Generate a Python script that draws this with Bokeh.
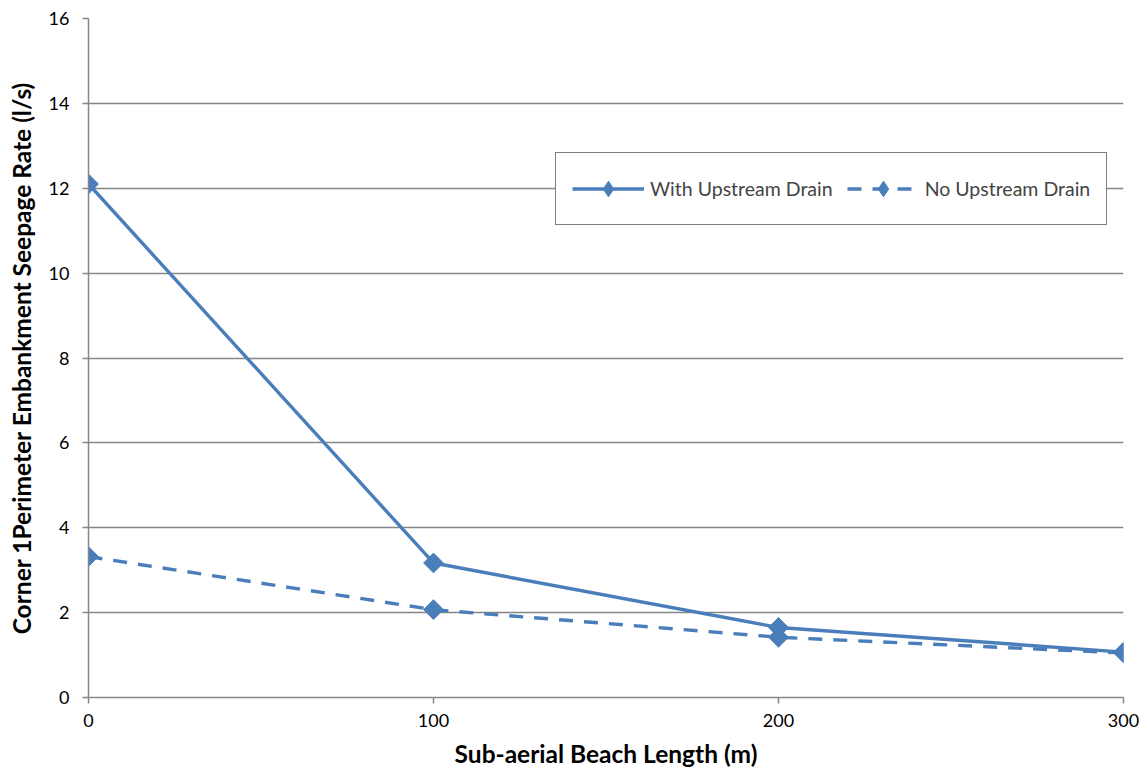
import numpy as np
from bokeh.plotting import figure
from bokeh.models import Legend, LegendItem, FixedTicker, Range1d
from bokeh.embed import file_html
from bokeh.resources import INLINE

beach_length = [0, 100, 200, 300]
with_drain = [12.1, 3.17, 1.65, 1.07]
no_drain = [3.32, 2.07, 1.42, 1.05]
x_ticks = [0, 100, 200, 300]
y_ticks = [0, 2, 4, 6, 8, 10, 12, 14, 16]

FONT = "Lato"
BLUE = "#4A7EBB"
GRAY = "#868686"

p = figure(width=1145, height=775, output_backend="svg", toolbar_location=None,
           x_range=Range1d(0, 300), y_range=Range1d(0, 16),
           min_border_left=88, min_border_right=22, min_border_top=18, min_border_bottom=78)
p.outline_line_color = None
p.background_fill_color = "white"

p.xgrid.grid_line_color = None
p.ygrid.grid_line_color = GRAY
p.ygrid.grid_line_width = 1.3

for ax in (p.xaxis[0], p.yaxis[0]):
    ax.axis_line_color = GRAY
    ax.axis_line_width = 1.5
    ax.major_tick_line_color = GRAY
    ax.major_tick_line_width = 1.5
    ax.major_tick_out = 6
    ax.major_tick_in = 0
    ax.minor_tick_line_color = None
    ax.major_label_text_font = FONT
    ax.major_label_text_font_size = "18px"
    ax.major_label_text_color = "black"
    ax.axis_label_text_font = FONT
    ax.axis_label_text_font_size = "24.5px"
    ax.axis_label_text_font_style = "bold"
    ax.axis_label_text_color = "black"

p.xaxis.ticker = FixedTicker(ticks=x_ticks)
p.yaxis.ticker = FixedTicker(ticks=y_ticks)
p.xaxis.major_label_standoff = 10
p.xaxis.axis_label_standoff = 9
p.yaxis.major_label_standoff = 13
p.yaxis.axis_label_standoff = 10
p.xaxis.axis_label = "Sub-aerial Beach Length (m)"
p.yaxis.axis_label = "Corner 1Perimeter Embankment Seepage Rate (l/s)"

l1 = p.line(beach_length, with_drain, line_color=BLUE, line_width=3.4)
m1 = p.scatter(beach_length, with_drain, marker="square", angle=np.pi / 4, size=14,
               fill_color=BLUE, line_color=BLUE)
l2 = p.line(beach_length, no_drain, line_color=BLUE, line_width=3.4, line_dash="14 11")
m2 = p.scatter(beach_length, no_drain, marker="square", angle=np.pi / 4, size=14,
               fill_color=BLUE, line_color=BLUE)

# legend-only marker renderers (no data drawn in plot)
lg1 = p.scatter([np.nan], [np.nan], marker="diamond", size=12, fill_color=BLUE, line_color=BLUE)
lg2 = p.scatter([np.nan], [np.nan], marker="diamond", size=12, fill_color=BLUE, line_color=BLUE)

legend = Legend(items=[LegendItem(label="With Upstream Drain", renderers=[l1, lg1]),
                       LegendItem(label="No Upstream Drain", renderers=[l2, lg2])],
                orientation="horizontal", location=(467, 472))
legend.border_line_color = "black"
legend.border_line_width = 1.5
legend.background_fill_color = "white"
legend.background_fill_alpha = 1
legend.label_text_font = FONT
legend.label_text_font_size = "19.5px"
legend.glyph_width = 72
legend.glyph_height = 39
legend.label_height = 39
legend.padding = 16
legend.spacing = 14
legend.margin = 0
legend.label_standoff = 6
p.add_layout(legend, "center")

open("out.html", "w").write(file_html(p, INLINE))
